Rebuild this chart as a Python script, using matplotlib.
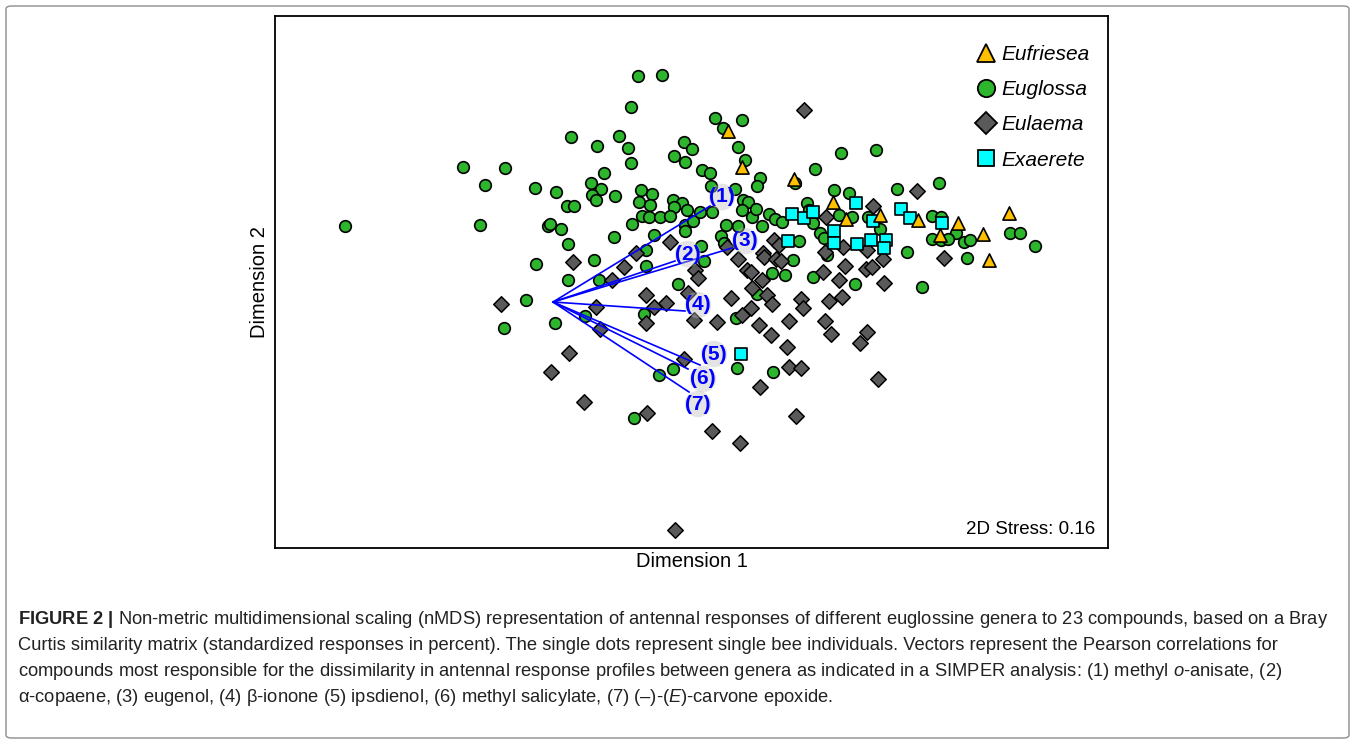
import matplotlib
matplotlib.use('Agg')
import matplotlib.pyplot as plt
from matplotlib import font_manager
from matplotlib.patches import FancyBboxPatch
from matplotlib.lines import Line2D

# nMDS scores (unitless)
euglossa_x = [0.85, 1.09, 0.78, 0.18, 0.44, 0.66, 0.75, 0.78, 1.31, 1.39, 1.21, 1.32,
              -0.90, -0.48, -0.68, -0.18, 0.03, 0.51, 0.38, 0.48, 0.39, 0.43, 0.62, 0.14,
              0.21, 0.88, 0.99, 0.86, 0.97, 1.20, 1.29, 1.21, 1.34, 0.89, 0.96, 1.07, 1.17,
              -2.08, -0.73, -0.05, -0.03, 0.08, 0.79, 1.32, 1.32, 0.61, 1.01, 0.15, 0.93,
              -0.17, 0.41, 0.93, 0.15, 0.46, 1.25, -0.27, -0.49, 0.02, 0.32, 0.91, 1.49,
              1.57, 1.40, 1.48, 1.51, 1.47, 1.59, 1.62, 1.89, 1.70, 1.85, 1.92, 2.07, 2.04,
              2.42, 2.62, 2.88, 3.23, 1.58, 1.82, 1.90, 1.95, 2.81, 2.96, 3.44, 3.86, 1.85,
              1.89, 1.99, 2.03, 2.09, 2.16, 2.22, 2.29, 1.68, 1.71, 2.46, 2.54, 2.56, 2.60,
              2.67, 2.71, 2.86, 2.99, 3.15, 1.73, 3.79, 3.88, 4.03, 3.79, 3.88, 3.95, 4.11,
              4.17, 4.57, 4.67, 4.82, 3.54, 3.27, 2.19, 2.32, 2.60, 2.40, 2.74, 3.02, 3.69,
              4.14, 2.04, 1.83, 1.84, 2.20, 1.20, 1.06, 0.81]
euglossa_y = [2.26, 2.27, 1.95, 1.65, 1.56, 1.66, 1.54, 1.39, 1.60, 1.53, 1.46, 1.40,
              1.35, 1.34, 1.17, 1.14, 1.10, 1.29, 1.19, 1.13, 1.07, 1.02, 1.06, 0.96,
              0.96, 1.12, 1.08, 1.00, 0.97, 1.02, 0.99, 0.95, 0.92, 0.86, 0.85, 0.85, 0.86,
              0.76, 0.77, 0.76, 0.78, 0.73, 0.78, 0.77, 0.71, 0.65, 0.67, 0.58, 0.52,
              0.38, 0.42, 0.36, 0.22, 0.22, 0.18, 0.02, -0.26, -0.21, -0.14, -0.12, 1.32,
              1.29, 0.81, 0.56, 0.41, 0.90, 0.90, 1.84, 1.82, 1.74, 1.55, 1.42, 1.24, 1.16,
              1.19, 1.33, 1.49, 1.52, 1.16, 1.13, 1.02, 1.00, 1.12, 1.09, 1.13, 1.19, 0.76,
              0.92, 0.85, 0.93, 0.76, 0.88, 0.83, 0.80, 0.66, 0.59, 0.61, 0.99, 0.92, 0.79,
              0.69, 0.64, 0.87, 0.85, 0.85, 0.77, 0.86, 0.85, 0.69, 0.63, 0.62, 0.63, 0.60,
              0.62, 0.69, 0.69, 0.56, 0.50, 0.73, 0.29, 0.27, 0.25, 0.42, 0.47, 0.18, 0.15,
              0.44, 0.08, -0.16, -0.66, -0.70, -0.67, -0.73, -1.16]

eulaema_x = [2.51, 3.64, 3.20, 2.73, 2.21, 2.26, 1.74, 2.10, 2.90, 3.14, 2.72, 1.17,
             0.83, 0.20, 0.71, 0.59, -0.52, 0.93, 1.13, 0.43, 1.01, 0.93, 0.47, 0.16,
             -0.02, 0.31, 0.94, 1.31, 1.59, 1.87, 1.22, 1.42, 1.45, 1.41, 1.35, 1.85,
             1.94, 1.98, 2.11, 2.23, 2.28, 2.09, 1.99, 2.14, 2.19, 1.78, 1.98, 1.89, 1.64,
             2.06, 2.18, 2.36, 2.34, 2.48, 2.50, 2.70, 2.86, 2.92, 3.13, 3.19, 2.76, 2.89,
             2.72, 2.78, 3.14, 3.07, 2.36, 2.48, 2.07, 2.43, 3.25, 3.30, 3.91, 3.31]
eulaema_y = [1.92, 1.11, 0.96, 0.85, 0.62, 0.57, 0.55, 0.49, 0.55, 0.52, 0.50, 0.60,
             0.49, 0.40, 0.35, 0.22, -0.02, 0.07, -0.01, -0.05, -0.05, -0.21, -0.27, -0.51,
             -0.70, -1.00, -1.11, -0.57, -1.29, -1.41, -2.28, 0.32, 0.24, -0.18, 0.09, 0.43,
             0.32, 0.30, 0.45, 0.43, 0.41, 0.22, 0.14, 0.07, -0.02, 0.04, -0.06, -0.13, -0.20,
             -0.23, -0.33, -0.19, -0.45, 0.03, -0.06, 0.30, 0.22, 0.36, 0.33, 0.35, 0.01, 0.05,
             -0.19, -0.32, -0.30, -0.41, -0.65, -0.66, -0.85, -1.14, -0.77, 0.43, 0.44, 0.19]

eufriesea_x = [1.75, 1.89, 2.41, 2.80, 2.93, 3.27, 3.65, 4.05, 4.56, 3.87, 4.30, 4.36]
eufriesea_y = [1.71, 1.35, 1.23, 1.00, 0.83, 0.87, 0.82, 0.79, 0.89, 0.67, 0.68, 0.42]

exaerete_x = [2.39, 2.51, 2.60, 3.03, 3.20, 3.48, 3.57, 3.89, 2.81, 2.81, 2.35, 3.04,
              3.18, 3.33, 3.31, 1.88]
exaerete_y = [0.88, 0.84, 0.90, 0.99, 0.81, 0.93, 0.84, 0.79, 0.71, 0.59, 0.61, 0.58,
              0.62, 0.62, 0.54, -0.52]

# compound vectors (Pearson correlations), drawn from the origin
vec_labels = ['(1)', '(2)', '(3)', '(4)', '(5)', '(6)', '(7)']
vec_x = [1.57, 1.22, 1.79, 1.32, 1.47, 1.35, 1.36]
vec_y = [0.96, 0.41, 0.54, -0.09, -0.63, -0.67, -0.90]
vec_off = [(12, 9), (13, 7), (13, 7), (13, 6), (14, 11), (15, -10), (9, -12)]

stress = 0.16

caption = [
    r"$\mathbf{FIGURE\ 2\ |}$ Non-metric multidimensional scaling (nMDS) representation of antennal responses of different euglossine genera to 23 compounds, based on a Bray",
    "Curtis similarity matrix (standardized responses in percent). The single dots represent single bee individuals. Vectors represent the Pearson correlations for",
    r"compounds most responsible for the dissimilarity in antennal response profiles between genera as indicated in a SIMPER analysis: (1) methyl $\mathit{o}$-anisate, (2)",
    r"α-copaene, (3) eugenol, (4) β-ionone (5) ipsdienol, (6) methyl salicylate, (7) (–)-($\mathit{E}$)-carvone epoxide.",
]

names = {f.name for f in font_manager.fontManager.ttflist}
cap_font = 'Liberation Sans Narrow' if 'Liberation Sans Narrow' in names else 'Liberation Sans'
plt.rcParams['font.family'] = ['Liberation Sans', 'DejaVu Sans']
plt.rcParams['mathtext.fontset'] = 'custom'
plt.rcParams['mathtext.rm'] = cap_font
plt.rcParams['mathtext.it'] = cap_font + ':italic'
plt.rcParams['mathtext.bf'] = 'Liberation Sans:bold'

W, H = 1357, 742
fig = plt.figure(figsize=(W / 100, H / 100), dpi=100)
ax = fig.add_axes([275 / W, 1 - 548 / H, 833 / W, 532 / H])

ax.scatter(euglossa_x, euglossa_y, s=70, marker='o', c='#2db52d', edgecolors='black',
           linewidths=1.2, zorder=3)
ax.scatter(eulaema_x, eulaema_y, s=62, marker='D', c='#5a5a5a', edgecolors='black',
           linewidths=1.1, zorder=3)
ax.scatter(exaerete_x, exaerete_y, s=64, marker='s', c='#00ffff', edgecolors='black',
           linewidths=1.2, zorder=4)
ax.scatter(eufriesea_x, eufriesea_y, s=90, marker='^', c='#ffc000', edgecolors='black',
           linewidths=1.2, zorder=4)

for lab, x, y, off in zip(vec_labels, vec_x, vec_y, vec_off):
    ax.plot([0, x], [0, y], color='#0000ff', lw=1.2, zorder=5)
    ax.annotate(lab, (x, y), xytext=off, textcoords='offset pixels', ha='center', va='center',
                color='#0000ff', fontsize=15, fontweight='bold', zorder=6,
                bbox=dict(boxstyle='circle,pad=0.02', fc='#bdbdbd', ec='none', alpha=0.4))

ax.set_xlim(-2.78, 5.55)
ax.set_ylim(-2.46, 2.86)
ax.set_xticks([])
ax.set_yticks([])
for sp in ax.spines.values():
    sp.set_linewidth(1.3)
ax.set_xlabel('Dimension 1', fontsize=14.5, labelpad=3)
ax.set_ylabel('Dimension 2', fontsize=14.5, labelpad=4)

handles = [
    Line2D([], [], ls='none', marker='^', ms=13, mfc='#ffc000', mec='black', mew=1.3),
    Line2D([], [], ls='none', marker='o', ms=12.5, mfc='#2db52d', mec='black', mew=1.3),
    Line2D([], [], ls='none', marker='D', ms=11, mfc='#5a5a5a', mec='black', mew=1.3),
    Line2D([], [], ls='none', marker='s', ms=11.5, mfc='#00ffff', mec='black', mew=1.3),
]
leg = ax.legend(handles, ['Eufriesea', 'Euglossa', 'Eulaema', 'Exaerete'], loc='upper right',
                bbox_to_anchor=(1.003, 0.985), frameon=False,
                prop={'style': 'italic', 'size': 15}, handlelength=0.8,
                handletextpad=0.35, labelspacing=0.78, borderaxespad=0.6)

ax.text(0.985, 0.018, '2D Stress: %.2f' % stress, transform=ax.transAxes, ha='right',
        va='bottom', fontsize=13.5)

# frame round the figure panel and caption
fig.add_artist(FancyBboxPatch((6 / W, 4 / H), 1343 / W, 1 - 10 / H, transform=fig.transFigure,
                              boxstyle='round,pad=0,rounding_size=0.004', fc='none',
                              ec='#8c8c8c', lw=1.0))
renderer = fig.canvas.get_renderer()
t = fig.text(18 / W, 0.5, caption[0], fontsize=12, family=cap_font)
size = 12 * 1312 / t.get_window_extent(renderer).width
t.remove()
line_y = [619, 645, 671, 697]
for txt, yy in zip(caption, line_y):
    fig.text(18 / W, 1 - yy / H, txt, fontsize=size, family=cap_font, color='#222222',
             va='center', ha='left')

fig.savefig('out.png', dpi=100)
